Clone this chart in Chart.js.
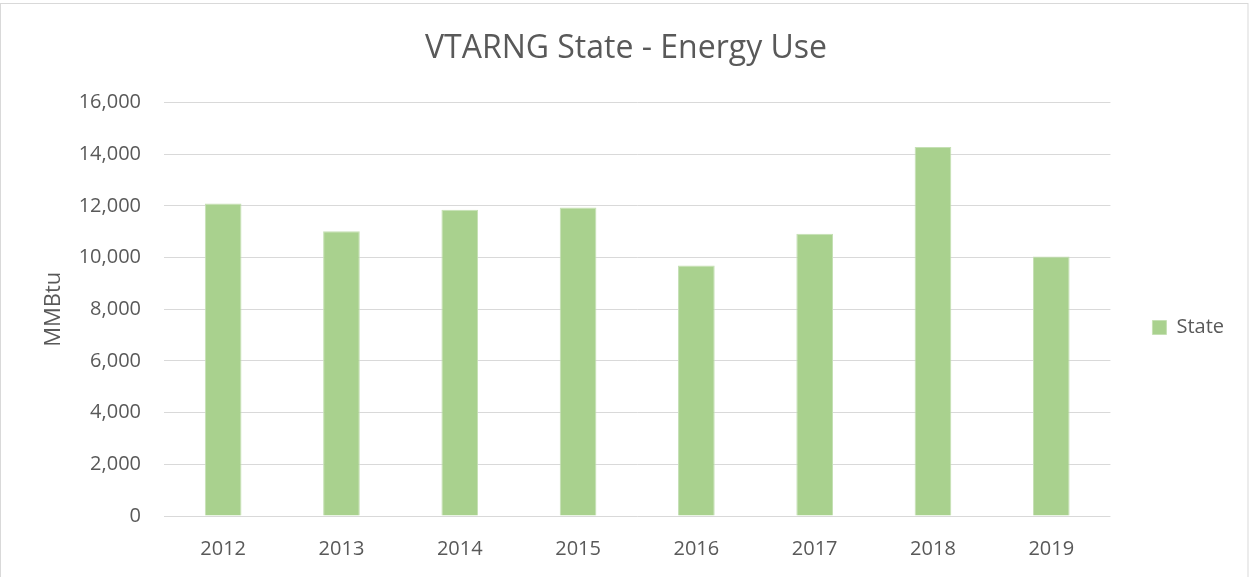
<!DOCTYPE html>
<html>
<head>
<meta charset="utf-8">
<script src="https://cdn.jsdelivr.net/npm/chart.js@4.4.1/dist/chart.umd.min.js"></script>
<style>
  html, body { margin: 0; padding: 0; background: #fff; }
  #wrap { width: 1249px; height: 577px; position: relative; }
</style>
</head>
<body>
<div id="wrap"><canvas id="grafica"></canvas></div>
<script>
  const years = ['2012', '2013', '2014', '2015', '2016', '2017', '2018', '2019'];
  const stateUse = [12090, 11020, 11850, 11935, 9690, 10915, 14270, 10040];
  const yTicks = [0, 2000, 4000, 6000, 8000, 10000, 12000, 14000, 16000];

  const txt = '#595959';
  const fontFam = '"Open Sans", sans-serif';

  // light frame around the whole chart, like the Excel chart area
  const frame = {
    id: 'frame',
    beforeDraw(chart) {
      const c = chart.ctx;
      c.save();
      c.fillStyle = '#fff';
      c.fillRect(0, 0, chart.width, chart.height);
      c.strokeStyle = '#d9d9d9';
      c.lineWidth = 1;
      c.strokeRect(0.5, 3.5, chart.width - 1.5, chart.height + 10);
      c.restore();
    }
  };

  const graph = document.getElementById('grafica');
  const myChart = new Chart(graph, {
    type: 'bar',
    data: {
      labels: years,
      datasets: [
        {
          label: 'State',
          data: stateUse,
          backgroundColor: '#a9d18e',
          borderColor: '#c5e0b4',
          borderWidth: 1,
          categoryPercentage: 1,
          barPercentage: 0.31,
        },
      ],
    },
    options: {
      responsive: true,
      maintainAspectRatio: false,
      animation: false,
      layout: { padding: { left: 18, right: 15, top: 10, bottom: 10 } },
      plugins: {
        title: {
          display: true,
          text: 'VTARNG State - Energy Use',
          color: txt,
          font: { family: fontFam, size: 32, weight: 'normal' },
          padding: { top: 20, bottom: 34 },
        },
        legend: {
          position: 'right',
          title: { display: true, text: ' ', font: { size: 10 }, padding: { top: 66, bottom: 0 } },
          labels: {
            color: txt,
            font: { family: fontFam, size: 20 },
            boxWidth: 14,
            boxHeight: 14,
            padding: 42,
          },
        },
        tooltip: { enabled: false },
      },
      scales: {
        x: {
          grid: { display: false },
          border: { display: false },
          afterFit: (s) => { s.height = 51; },
          ticks: { color: txt, font: { family: fontFam, size: 20 }, padding: 13 },
        },
        y: {
          min: 0,
          max: 16000,
          afterBuildTicks: (axis) => { axis.ticks = yTicks.map(v => ({ value: v })); },
          afterFit: (s) => { s.width = 146; },
          grid: { color: '#d9d9d9', lineWidth: 1, drawTicks: false },
          border: { display: false },
          ticks: {
            color: txt,
            font: { family: fontFam, size: 20 },
            padding: 23,
            callback: (v) => v.toLocaleString('en-US'),
          },
          title: {
            display: true,
            text: 'MMBtu',
            color: txt,
            font: { family: fontFam, size: 22 },
            padding: { top: 23, bottom: 0 },
          },
        },
      },
    },
    plugins: [frame],
  });
</script>
</body>
</html>
